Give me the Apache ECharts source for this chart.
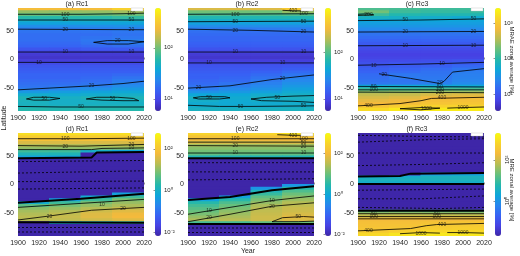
<!DOCTYPE html>
<html>
<head>
<meta charset="utf-8">
<script src="https://cdn.jsdelivr.net/npm/echarts@6/dist/echarts.min.js"></script>
<style>
  html, body { margin: 0; padding: 0; background: #fff; }
  #chart { width: 520px; height: 256px; }
</style>
</head>
<body>
<div id="chart"></div>
<script>
  // cell centres: 30-year columns, 5 degree latitude bands (north -> south)
  var yearCenters = [1915, 1945, 1975, 2005]
  var latCenters = [87.5, 82.5, 77.5, 72.5, 67.5, 62.5, 57.5, 52.5, 47.5, 42.5, 37.5, 32.5,
    27.5, 22.5, 17.5, 12.5, 7.5, 2.5, -2.5, -7.5, -12.5, -17.5, -22.5, -27.5,
    -32.5, -37.5, -42.5, -47.5, -52.5, -57.5, -62.5, -67.5, -72.5, -77.5, -82.5, -87.5]

  // zonal averages [%], one row per latitude band, one value per year column
  var mraeRc1 = [
    [250, 250, 250, 350], [120, 120, 120, 130], [90, 90, 90, 95], [60, 60, 60, 65],
    [45, 45, 45, 45], [35, 35, 35, 35], [26, 26, 26, 27], [20, 20, 20, 21],
    [18, 18, 18, 19], [17, 17, 17, 18], [17, 17, 18, 19], [17, 17, 19, 21],
    [16, 16, 18, 20], [15, 15, 16, 17], [12, 12, 13, 13], [9.5, 9.5, 9.5, 9.5],
    [8, 8, 8, 8], [7.5, 7.5, 7.5, 7.5], [8.5, 8.5, 8.5, 8.5], [10.5, 10.5, 10.5, 10.5],
    [12, 12, 12, 12], [13, 13, 13, 13], [14, 14, 14, 14], [15, 15, 15, 16],
    [15, 15, 16, 18], [16, 16, 17, 20], [17, 17, 18, 22], [18, 19, 21, 25],
    [21, 23, 26, 30], [30, 32, 35, 38], [42, 40, 42, 45], [52, 46, 52, 52],
    [50, 45, 48, 48], [48, 45, 46, 46], [50, 48, 50, 50], [58, 56, 58, 58]
  ]
  var mraeRc2 = [
    [250, 250, 260, 420], [120, 120, 120, 150], [90, 90, 90, 95], [65, 65, 65, 65],
    [50, 50, 50, 50], [38, 38, 38, 38], [28, 28, 28, 28], [21, 21, 21, 22],
    [18, 18, 18, 19], [17, 17, 17, 17], [16, 16, 16, 16], [16, 16, 16, 16],
    [15, 15, 15, 15], [14, 14, 14, 14], [12, 12, 12, 12], [9.5, 9.5, 9.5, 9.5],
    [8, 8, 8, 8], [7.5, 7.5, 7.5, 7.5], [8.5, 8.5, 8.5, 8.5], [10.5, 10.5, 10.5, 10.5],
    [12, 12, 12, 12.5], [13, 13, 13, 14], [14, 14, 15, 17], [15, 15, 17, 20],
    [15, 16, 19, 23], [16, 17, 21, 26], [17, 19, 23, 29], [19, 22, 26, 33],
    [22, 26, 30, 38], [30, 33, 38, 45], [42, 42, 48, 52], [53, 46, 54, 55],
    [50, 45, 50, 52], [46, 44, 46, 48], [48, 47, 48, 50], [55, 55, 56, 56]
  ]
  var mraeRc3 = [
    [140, 130, 120, 120], [200, 120, 110, 110], [120, 90, 85, 85], [70, 65, 60, 55],
    [48, 50, 48, 47], [40, 40, 40, 40], [34, 34, 34, 34], [27, 27, 27, 27],
    [20, 20, 20, 20], [17, 17, 17, 17], [15, 15, 15, 15], [13, 13, 13, 13],
    [11, 11, 11, 11], [9.5, 9.5, 9.5, 9.5], [8, 8, 8, 8], [7, 7, 7, 7],
    [6.5, 6.5, 6.5, 6.5], [7, 7, 7, 7], [8, 8, 8.5, 9], [9, 9.5, 10, 11],
    [10.5, 11, 12, 14], [12, 13, 15, 18], [13, 15, 17, 21], [15, 19, 18, 22],
    [16, 20, 19, 23], [17, 18, 20, 24], [19, 19, 22, 27], [50, 50, 50, 50],
    [120, 120, 130, 130], [250, 250, 280, 280], [400, 420, 500, 550], [500, 550, 700, 750],
    [600, 650, 800, 850], [700, 750, 900, 950], [900, 1100, 1300, 1300], [1500, 1900, 2000, 2000]
  ]
  var mreRc1 = [
    [250, 250, 250, 250], [130, 130, 130, 130], [80, 80, 80, 80], [35, 35, 35, 35],
    [18, 18, 18, 18], [11, 11, 11, 11], [3, 3, 1, 0.6], [1.5, 1.5, -1, -1],
    [0.5, 0.5, -2, -2], [-5, -5, -5, -5], [-8, -8, -8, -8], [-10, -10, -10, -10],
    [-10, -10, -10, -10], [-10, -10, -10, -10], [-10, -10, -10, -10], [-10, -10, -10, -10],
    [-10, -10, -10, -10], [-10, -10, -10, -10], [-10, -10, -10, -10], [-10, -10, -10, -10],
    [-8, -8, -8, -8], [-6, -6, -5, 0.5], [-5, -4, 0.8, 3], [-3, 0.5, 3, 8],
    [0.8, 3, 8, 12], [5, 8, 12, 16], [10, 12, 18, 25], [14, 17, 28, 40],
    [17, 22, 38, 55], [20, 25, 40, 60], [18, 22, 30, 40], [-1, 1, 1, 2],
    [-10, -10, -10, -10], [-10, -10, -10, -10], [-10, -10, -10, -10], [-10, -10, -10, -10]
  ]
  var mreRc2 = [
    [300, 300, 320, 450], [150, 150, 150, 150], [90, 90, 90, 90], [50, 50, 50, 50],
    [22, 22, 22, 22], [15, 15, 15, 15], [11, 11, 11, 11], [8, 8, 8, 8],
    [2, 2, 2, 2], [-5, -5, -5, -5], [-8, -8, -8, -8], [-10, -10, -10, -10],
    [-10, -10, -10, -10], [-10, -10, -10, -10], [-10, -10, -10, -10], [-10, -10, -10, -10],
    [-10, -10, -10, -10], [-10, -10, -10, -10], [-10, -10, -8, 0.5], [-10, -10, 0.5, 3],
    [-10, -8, 2, 6], [-8, -6, 4, 10], [-6, 0.8, 8, 15], [0.8, 3, 12, 20],
    [3, 6, 18, 28], [5, 9, 25, 35], [7, 12, 30, 42], [9, 16, 35, 45],
    [12, 20, 40, 55], [18, 25, 45, 70], [25, 30, 45, 60], [5, 5, 8, 10],
    [-10, -10, -10, -10], [-10, -10, -10, -10], [-10, -10, -10, -10], [-10, -10, -10, -10]
  ]
  var mreRc3 = [
    [-10, -10, -10, -10], [-10, -10, -10, -10], [-10, -10, -10, -10], [-10, -10, -10, -10],
    [-10, -10, -10, -10], [-10, -10, -10, -10], [-10, -10, -10, -10], [-10, -10, -10, -10],
    [-10, -10, -10, -10], [-10, -10, -10, -10], [-10, -10, -10, -10], [-10, -10, -10, -10],
    [-10, -10, -10, -10], [-5, -5, -3, -3], [-2, -1, 1, 1.5], [3, 3, 4, 4],
    [4, 4, 4, 4], [3, 3, 3, 3], [-10, -10, -10, -10], [-10, -10, -10, -10],
    [-10, -10, -10, -10], [-10, -10, -10, -10], [-10, -10, -10, -10], [-10, -10, -10, -10],
    [-10, -10, -10, -10], [-10, -10, -10, -10], [-10, -10, -10, -10], [15, 15, 15, 15],
    [60, 60, 60, 60], [120, 120, 120, 120], [220, 220, 220, 220], [260, 260, 300, 320],
    [280, 300, 380, 400], [320, 350, 450, 480], [400, 500, 700, 700], [700, 1000, 1100, 1100]
  ]

  // colour bar limits, log10 of percent
  var rangeA = [0.76, 2.78]
  var rangeB = [0.74, 2.94]
  var rangeC = [0.53, 3.42]
  var rangeD = [-2.19, 2.76]
  var rangeE = [-2.07, 3.0]
  var rangeF = [-1.7, 3.3]
  var ticksA = [1, 2]
  var ticksB = [1, 2]
  var ticksC = [1, 2, 3]
  var ticksD = [-2, 0, 2]
  var ticksE = [-2, 0, 2]
  var ticksF = [0, 2]

  // contour lines [year, latitude]; solid = positive, zero = thick, neg = dashed
  var contA = [
    [[1900, 79], [1960, 79], [2000, 80], [2020, 81]],
    [[1900, 69], [2020, 69]],
    [[1900, 53], [2020, 52]],
    [[1972, 30], [1985, 33], [2005, 33], [2020, 31], [2005, 27], [1985, 27], [1972, 30]],
    [[1900, 13], [2020, 13]],
    [[1900, -5], [2020, -5]],
    [[1900, -53], [1940, -49], [1970, -46], [2000, -42], [2020, -38]],
    [[1908, -69], [1915, -66], [1930, -66], [1940, -68], [1930, -71], [1915, -71], [1908, -69]],
    [[1965, -69], [1975, -66], [1995, -66], [2010, -68], [2015, -72], [2000, -72], [1980, -71], [1965, -69]],
    [[1900, -82], [1940, -83], [1980, -83], [2020, -83]]
  ]
  var contB = [
    [[1990, 86], [2000, 85], [2015, 85]],
    [[1900, 79], [2020, 80]],
    [[1900, 66], [2020, 67]],
    [[1900, 53], [1960, 51], [2020, 48]],
    [[1900, 13], [2020, 13]],
    [[1900, -6], [2020, -6]],
    [[1900, -50], [1940, -46], [1980, -35], [2020, -27]],
    [[1905, -67], [1912, -65], [1935, -65], [1940, -67], [1930, -69], [1910, -69], [1905, -67]],
    [[1960, -69], [1975, -66], [2000, -64], [2020, -63]],
    [[2020, -75], [2000, -73], [1970, -72], [1960, -69]],
    [[1900, -80], [1930, -82], [1960, -82], [2020, -81]]
  ]
  var contC = [
    [[1900, 79], [1910, 80], [1915, 78], [1900, 77]],
    [[1900, 68], [1960, 69], [2020, 71]],
    [[1900, 48], [2020, 49]],
    [[1900, 24], [2020, 25]],
    [[1900, -10], [1960, -8], [2020, -5]],
    [[1920, -25], [1950, -33], [1978, -42], [1982, -38], [1990, -22], [2020, -16]],
    [[1900, -47], [2020, -48]],
    [[1900, -53], [2020, -53]],
    [[1900, -57], [2020, -58]],
    [[1900, -81], [1940, -77], [1960, -72], [1970, -68], [2020, -66]],
    [[1940, -86], [1960, -84], [1978, -85], [1960, -88], [1940, -86]],
    [[1985, -85], [2000, -84], [2020, -83]]
  ]
  var contD = [
    [[1900, 80], [1960, 80], [2020, 81]],
    [[1900, 68], [1960, 67], [2020, 70]],
    [[1900, 61], [1970, 61], [1980, 63], [2020, 64]],
    [[1900, -40], [1960, -33], [2020, -26]],
    [[1900, -62], [1930, -55], [1970, -45], [2020, -40]]
  ]
  var zeroD = [
    [[1900, 46], [1970, 47], [1975, 56], [2020, 57]],
    [[1900, -32], [1960, -25], [2020, -16]],
    [[1900, -66], [2020, -67]]
  ]
  var negD = [
    [[1900, 40], [2020, 42]], [[1900, 20], [2020, 24]], [[1900, 5], [2020, 6]],
    [[1900, -8], [2020, -6]], [[1900, -75], [2020, -75]], [[1900, -83], [2020, -83]]
  ]
  var contE = [
    [[1985, 87], [2000, 86], [2015, 86]],
    [[1900, 80], [2020, 80]],
    [[1900, 74], [2020, 74]],
    [[1900, 68], [2020, 67]],
    [[1900, 55], [2020, 55]],
    [[1900, -52], [1940, -40], [1980, -28], [2020, -20]],
    [[1900, -65], [1940, -52], [1980, -38], [2020, -32]],
    [[2020, -57], [2010, -56], [1990, -58], [1980, -65], [2005, -65], [2020, -64]]
  ]
  var zeroE = [
    [[1900, 46], [2020, 46]],
    [[1900, -27], [1940, -22], [1980, -10], [2020, -3]],
    [[1900, -69], [2020, -69]]
  ]
  var negE = [
    [[1900, 38], [2020, 38]], [[1900, 22], [2020, 22]], [[1900, 8], [2020, 10]],
    [[1900, -76], [2020, -76]], [[1900, -84], [2020, -84]]
  ]
  var contF = [
    [[1900, -51], [2020, -51]],
    [[1900, -56], [2020, -56]],
    [[1900, -60], [2020, -60]],
    [[1900, -81], [1950, -77], [1965, -72], [1975, -70], [2020, -68]],
    [[1940, -86], [1960, -84], [1978, -85]],
    [[1985, -84], [2000, -84], [2020, -85]]
  ]
  var zeroF = [
    [[1900, 14], [1940, 15], [1950, 19], [2020, 20]],
    [[1900, 1], [2020, 1]],
    [[1900, -46], [2020, -46]]
  ]
  var negF = [
    [[1900, 86], [1960, 84], [2020, 83]], [[1900, 74], [1960, 78], [2020, 80]],
    [[1900, 55], [2020, 55]], [[1900, 33], [1960, 35], [2020, 38]],
    [[1900, -10], [2020, -8]], [[1900, -25], [1960, -25], [2020, -20]],
    [[1900, -40], [1980, -42], [2020, -40]]
  ]

  // inline contour labels [year, latitude, level]
  var labA = [[1945, 79, '100'], [2008, 80, '100'], [1945, 69, '50'], [2008, 69, '50'],
    [1945, 53, '20'], [2008, 52, '20'], [1995, 33, '20'], [1945, 13, '10'], [2008, 13, '10'],
    [1920, -5, '10'], [1970, -46, '20'], [1925, -68, '50'], [1990, -68, '50'], [1960, -83, '50']]
  var labB = [[2000, 85, '400'], [1945, 79, '100'], [2010, 80, '100'], [1945, 66, '50'],
    [2010, 67, '50'], [1945, 51, '20'], [2010, 49, '20'], [1945, 13, '10'], [2010, 13, '10'],
    [1920, -6, '10'], [1990, -6, '10'], [1910, -49, '20'], [1990, -33, '20'], [1920, -66, '50'],
    [1985, -66, '50'], [1950, -82, '50'], [2010, -81, '50']]
  var labC = [[1910, 79, '200'], [1945, 69, '50'], [2010, 71, '50'], [1945, 48, '20'],
    [2010, 49, '20'], [1945, 24, '10'], [2010, 25, '10'], [1915, -10, '10'], [1980, -7, '10'],
    [1925, -27, '20'], [1978, -40, '20'], [1915, -47, '50'], [1978, -48, '50'],
    [1915, -53, '100'], [1978, -53, '100'], [1978, -58, '200'], [1910, -80, '400'],
    [1980, -67, '400'], [1965, -86, '1000'], [2000, -84, '1000']]
  var labD = [[1945, 80, '100'], [2008, 81, '100'], [1945, 67, '20'], [2008, 69, '20'],
    [2008, 64, '10'], [1980, -35, '10'], [2000, -42, '20'], [1930, -56, '20']]
  var labE = [[2000, 86, '400'], [1945, 80, '100'], [2010, 80, '100'], [2010, 74, '50'],
    [1945, 68, '20'], [2010, 67, '20'], [1945, 55, '10'], [2010, 55, '10'], [1920, -46, '10'],
    [1980, -28, '10'], [1920, -58, '20'], [1980, -38, '20'], [2005, -56, '50']]
  var labF = [[1915, -51, '50'], [1975, -51, '50'], [1915, -56, '100'], [1975, -56, '100'],
    [1910, -80, '400'], [1980, -70, '400'], [1960, -85, '1000'], [2000, -84, '1000']]

  var panels = [
    { title: '(a) Rc1', values: mraeRc1, range: rangeA, ticks: ticksA, pos: contA, zero: [], neg: [], labels: labA },
    { title: '(b) Rc2', values: mraeRc2, range: rangeB, ticks: ticksB, pos: contB, zero: [], neg: [], labels: labB },
    { title: '(c) Rc3', values: mraeRc3, range: rangeC, ticks: ticksC, pos: contC, zero: [], neg: [], labels: labC },
    { title: '(d) Rc1', values: mreRc1, range: rangeD, ticks: ticksD, pos: contD, zero: zeroD, neg: negD, labels: labD },
    { title: '(e) Rc2', values: mreRc2, range: rangeE, ticks: ticksE, pos: contE, zero: zeroE, neg: negE, labels: labE },
    { title: '(f) Rc3', values: mreRc3, range: rangeF, ticks: ticksF, pos: contF, zero: zeroF, neg: negF, labels: labF }
  ]

  // layout
  var colLeft = [18, 188, 358]
  var rowTop = [8, 133]
  var plotW = 126
  var plotH = 103
  var cbGap = 137
  var cbW = 6
  var halfYear = 15
  var halfLat = 2.5
  var textColor = '#262626'
  var fontFamily = 'Liberation Sans, Arial, sans-serif'

  // parula-like colour map (old MATLAB default)
  var parula = ['#3e26a8', '#4642e4', '#3762f4', '#2787ee', '#0ea7d9', '#25b8ab',
    '#68c07c', '#b9bd53', '#f4ba3c', '#f8d42b', '#f9fb0e']
  var sup = { '-2': '⁻²', '0': '⁰', '1': '¹', '2': '²', '3': '³' }

  function renderCell(params, api) {
    var p0 = api.coord([api.value(0) - halfYear, api.value(1) + halfLat])
    var p1 = api.coord([api.value(0) + halfYear, api.value(1) - halfLat])
    return {
      type: 'rect',
      shape: { x: p0[0] - 0.5, y: p0[1] - 0.5, width: p1[0] - p0[0] + 1, height: p1[1] - p0[1] + 1 },
      style: { fill: api.visual('color') }
    }
  }

  var grids = []
  var xAxes = []
  var yAxes = []
  var series = []
  var visualMaps = []
  var graphics = []

  panels.forEach(function(p, i) {
    var col = i % 3
    var row = Math.floor(i / 3)
    var left = colLeft[col]
    var top = rowTop[row]
    var g = i * 2

    grids.push({ left: left, top: top, width: plotW, height: plotH })
    grids.push({ left: left + cbGap, top: top, width: cbW, height: plotH })

    xAxes.push({
      gridIndex: g, type: 'value', min: 1900, max: 2020, interval: 20,
      axisLine: { show: false },
      axisTick: { inside: true, length: 2, lineStyle: { color: textColor, width: 0.5 } },
      axisLabel: {
        fontSize: 7, color: textColor, margin: 4, fontFamily: fontFamily,
        formatter: function(v) { return String(v) }
      },
      splitLine: { show: false }
    })
    xAxes.push({ gridIndex: g + 1, type: 'value', min: 0, max: 1, show: false })

    yAxes.push({
      gridIndex: g, type: 'value', min: -90, max: 90,
      axisLine: { show: false },
      axisTick: { inside: true, length: 2, customValues: [-50, 0, 50], lineStyle: { color: textColor, width: 0.5 } },
      axisLabel: { fontSize: 7, color: textColor, margin: 4, fontFamily: fontFamily, customValues: [-50, 0, 50] },
      splitLine: { show: false }
    })
    yAxes.push({
      gridIndex: g + 1, type: 'value', position: 'right', min: p.range[0], max: p.range[1],
      axisLine: { show: false },
      axisTick: { inside: true, length: 1.5, customValues: p.ticks, lineStyle: { color: textColor, width: 0.5 } },
      axisLabel: {
        fontSize: 6, color: textColor, margin: 3, fontFamily: fontFamily,
        customValues: p.ticks, rotate: i === 5 ? 90 : 0,
        formatter: function(v) { return '10' + sup[String(v)] }
      },
      splitLine: { show: false }
    })

    var cells = []
    p.values.forEach(function(rowVals, r) {
      rowVals.forEach(function(v, c) {
        var lg = v > 0 ? Math.log10(v) : p.range[0]
        lg = Math.max(p.range[0], Math.min(p.range[1], lg))
        cells.push([yearCenters[c], latCenters[r], lg, v])
      })
    })
    var heatIndex = series.length
    series.push({
      type: 'custom', xAxisIndex: g, yAxisIndex: g, clip: true, silent: true,
      renderItem: renderCell, encode: { x: 0, y: 1 }, data: cells, z: 1
    })

    function addLines(list, style) {
      list.forEach(function(pts) {
        series.push({
          type: 'line', xAxisIndex: g, yAxisIndex: g, data: pts, symbol: 'none',
          silent: true, clip: true, z: 3, lineStyle: style
        })
      })
    }
    addLines(p.pos, { color: '#000', width: 0.8 })
    addLines(p.neg, { color: '#000', width: 0.8, type: [2, 2] })
    addLines(p.zero, { color: '#000', width: 2 })

    // contour level labels
    series.push({
      type: 'scatter', xAxisIndex: g, yAxisIndex: g, data: p.labels, symbolSize: 0,
      silent: true, z: 4,
      label: {
        show: true, position: 'inside', fontSize: 5, color: '#111', fontFamily: fontFamily,
        formatter: function(d) { return d.value[2] }
      }
    })

    visualMaps.push({
      type: 'continuous', seriesIndex: heatIndex, dimension: 2,
      min: p.range[0], max: p.range[1], inRange: { color: parula },
      left: left + cbGap, top: top, itemWidth: cbW, itemHeight: plotH,
      padding: 0, calculable: false, hoverLink: false, text: null, show: true
    })

    graphics.push({
      type: 'text', x: left + 59, y: top - 4,
      style: { text: p.title, fontSize: 7, fill: textColor, fontFamily: fontFamily, textAlign: 'center', textVerticalAlign: 'middle' }
    })
    // empty legend box in the upper right corner
    graphics.push({
      type: 'rect', shape: { x: left + 113, y: top, width: 12, height: 3 },
      style: { fill: '#fff', stroke: '#bbb', lineWidth: 0.4 }, z: 10
    })
  })

  graphics.push({
    type: 'text', x: 4, y: 118, rotation: Math.PI / 2,
    style: { text: 'Latitude', fontSize: 7, fill: textColor, fontFamily: fontFamily, textAlign: 'center', textVerticalAlign: 'middle' }
  })
  graphics.push({
    type: 'text', x: 248, y: 251,
    style: { text: 'Year', fontSize: 7, fill: textColor, fontFamily: fontFamily, textAlign: 'center', textVerticalAlign: 'middle' }
  })
  graphics.push({
    type: 'text', x: 512, y: 60, rotation: -Math.PI / 2,
    style: { text: 'MRAE zonal average [%]', fontSize: 6, fill: textColor, fontFamily: fontFamily, textAlign: 'center', textVerticalAlign: 'middle' }
  })
  graphics.push({
    type: 'text', x: 512, y: 190, rotation: -Math.PI / 2,
    style: { text: 'MRE zonal average [%]', fontSize: 6, fill: textColor, fontFamily: fontFamily, textAlign: 'center', textVerticalAlign: 'middle' }
  })

  var chart = echarts.init(document.getElementById('chart'))
  chart.setOption({
    animation: false,
    backgroundColor: '#fff',
    grid: grids,
    xAxis: xAxes,
    yAxis: yAxes,
    visualMap: visualMaps,
    series: series,
    graphic: graphics
  })
</script>
</body>
</html>
